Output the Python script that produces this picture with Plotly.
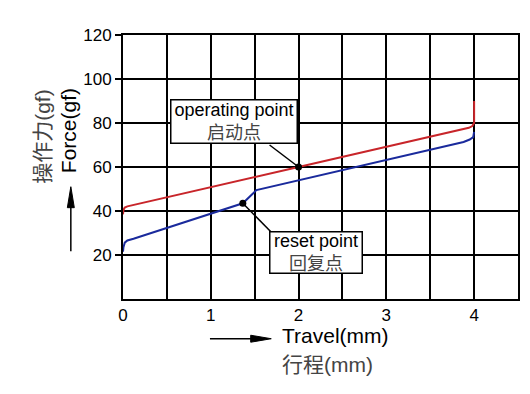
import plotly.graph_objects as go

# ---- data ----
x_ticks = [0, 1, 2, 3, 4]
x_tick_labels = ["0", "1", "2", "3", "4"]
y_ticks = [20, 40, 60, 80, 100, 120]
y_tick_labels = ["20", "40", "60", "80", "100", "120"]

# operating (press) curve
red_x = [0.0, 0.005, 0.02, 0.05, 2.0, 3.94, 3.98, 4.0, 4.0]
red_y = [38.5, 40.5, 41.6, 42.1, 60.0, 77.8, 78.6, 80.0, 90.0]

# reset (return) curve
blue_x = [0.0, 0.005, 0.02, 0.05, 0.12, 1.365, 1.52, 3.88, 3.95, 3.99, 4.0]
blue_y = [21.5, 23.5, 25.6, 26.6, 27.4, 43.5, 49.5, 71.4, 72.5, 73.6, 76.0]

op_point = (2.0, 60.0)
reset_point = (1.365, 43.5)

FONT = "Liberation Sans, Arial, Noto Sans CJK SC, sans-serif"
CJK_COLOR = "#444444"

fig = go.Figure()
fig.add_trace(go.Scatter(x=red_x, y=red_y, mode="lines",
                         line=dict(color="#c8252a", width=2), hoverinfo="skip"))
fig.add_trace(go.Scatter(x=blue_x, y=blue_y, mode="lines",
                         line=dict(color="#1a2a9c", width=2), hoverinfo="skip"))
fig.add_trace(go.Scatter(x=[op_point[0], reset_point[0]], y=[op_point[1], reset_point[1]],
                         mode="markers", marker=dict(color="black", size=7), hoverinfo="skip"))

# leader lines (data coords)
fig.add_shape(type="line", x0=1.67, y0=70.0, x1=op_point[0], y1=op_point[1],
              line=dict(color="black", width=1.5))
fig.add_shape(type="line", x0=1.69, y0=30.3, x1=reset_point[0], y1=reset_point[1],
              line=dict(color="black", width=1.5))

# annotation boxes
fig.add_annotation(x=1.268, y=80.5, xref="x", yref="y", showarrow=False,
                   xanchor="center", yanchor="middle",
                   text=f"operating point<br><span style='color:{CJK_COLOR}'>启动点</span>",
                   font=dict(size=18, color="black", family=FONT),
                   bgcolor="white", bordercolor="black", borderwidth=1.5, borderpad=1,
                   width=123, height=40)
fig.add_annotation(x=2.194, y=21.3, xref="x", yref="y", showarrow=False,
                   xanchor="center", yanchor="middle",
                   text=f"reset point<br><span style='color:{CJK_COLOR}'>回复点</span>",
                   font=dict(size=18, color="black", family=FONT),
                   bgcolor="white", bordercolor="black", borderwidth=1.5, borderpad=1,
                   width=89, height=38)

# axis titles
L, R, T, B = 122.5, 520.0, 35.0, 299.5
W, H = R - L, B - T
def px(xp):
    return (xp - L) / W
def py(yp):
    return (B - yp) / H

fig.add_annotation(x=px(42), y=py(137), xref="paper", yref="paper", showarrow=False,
                   xanchor="center", yanchor="middle",
                   text="操作力(gf)", textangle=-90, font=dict(size=21, color=CJK_COLOR, family=FONT))
fig.add_annotation(x=px(67.5), y=py(131), xref="paper", yref="paper", showarrow=False,
                   xanchor="center", yanchor="middle",
                   text="Force(gf)", textangle=-90, font=dict(size=21, color="black", family=FONT))
fig.add_annotation(x=px(280), y=py(336.5), xref="paper", yref="paper", showarrow=False,
                   xanchor="left", yanchor="middle",
                   text="Travel(mm)", font=dict(size=21, color="black", family=FONT))
fig.add_annotation(x=px(280), y=py(365), xref="paper", yref="paper", showarrow=False,
                   xanchor="left", yanchor="middle",
                   text="行程(mm)", font=dict(size=21, color=CJK_COLOR, family=FONT))

# arrows (paper coords)
fig.add_shape(type="line", xref="paper", yref="paper", x0=px(210), y0=py(339.3),
              x1=px(255), y1=py(339.3), line=dict(color="black", width=1.5))
fig.add_shape(type="path", xref="paper", yref="paper",
              path=f"M {px(271.7)} {py(339.3)} L {px(251)} {py(335.8)} L {px(251)} {py(342.8)} Z",
              fillcolor="black", line=dict(color="black", width=1))
fig.add_shape(type="line", xref="paper", yref="paper", x0=px(70), y0=py(251.7),
              x1=px(70), y1=py(205), line=dict(color="black", width=1.5))
fig.add_shape(type="path", xref="paper", yref="paper",
              path=f"M {px(70)} {py(187)} L {px(66.5)} {py(208)} L {px(73.5)} {py(208)} Z",
              fillcolor="black", line=dict(color="black", width=1))

grid_x = [i * 0.5 for i in range(10)]
fig.update_xaxes(range=[0, 4.5], tickvals=grid_x,
                 ticktext=[x_tick_labels[x_ticks.index(v)] if v in x_ticks else "" for v in grid_x],
                 showgrid=True, gridcolor="black", gridwidth=2,
                 showline=True, linecolor="black", linewidth=2, mirror=True,
                 ticks="", zeroline=False,
                 tickfont=dict(size=17, color="black", family=FONT))
fig.update_yaxes(range=[0, 120], tickvals=y_ticks, ticktext=y_tick_labels,
                 showgrid=True, gridcolor="black", gridwidth=2,
                 showline=True, linecolor="black", linewidth=2, mirror=True,
                 ticks="outside", ticklen=6, tickwidth=2, tickcolor="black", zeroline=False,
                 tickfont=dict(size=17, color="black", family=FONT))

fig.update_layout(width=530, height=394, showlegend=False,
                  margin=dict(l=L, r=530 - R, t=T, b=394 - B, pad=0),
                  paper_bgcolor="white", plot_bgcolor="white")

fig.write_html("out.html", config={"displayModeBar": False},
               post_script="document.body.style.margin='0';")
